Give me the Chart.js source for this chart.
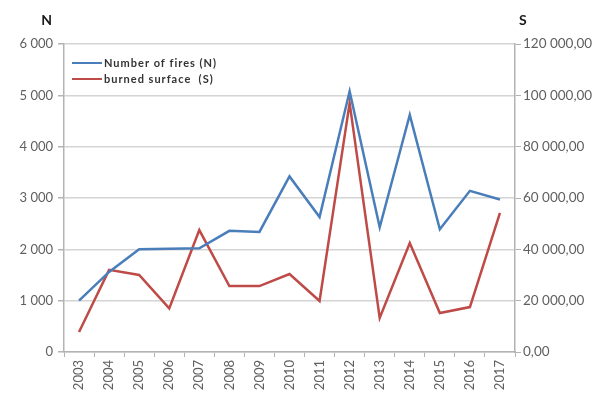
<!DOCTYPE html>
<html>
<head>
<meta charset="utf-8">
<script src="https://cdn.jsdelivr.net/npm/chart.js@4/dist/chart.umd.min.js"></script>
<style>
  html, body { margin: 0; padding: 0; background: #fff; }
  #wrap { width: 611px; height: 400px; position: relative; }
</style>
</head>
<body>
<div id="wrap"><canvas id="c"></canvas></div>
<script>
// Yearly data
const years = ['2003','2004','2005','2006','2007','2008','2009','2010','2011','2012','2013','2014','2015','2016','2017'];
const fires = [1000, 1560, 2000, 2010, 2020, 2360, 2340, 3420, 2630, 5080, 2430, 4620, 2390, 3140, 2970];
const surface = [7800, 32000, 30000, 17000, 47500, 25700, 25700, 30400, 19900, 97000, 13300, 42500, 15200, 17500, 54200];
const seriesNames = ['Number of fires (N)', 'burned surface  (S)'];
const axisTitles = ['N', 'S'];

const FONT = 'Lato, "Open Sans", sans-serif';
const TICK_COLOR = '#5f5f5f';
const GRID_COLOR = '#d4d4d4';
const AXIS_COLOR = '#b3b3b3';

function spaced(v) {
  return String(Math.round(v)).replace(/\B(?=(\d{3})+(?!\d))/g, ' ');
}

// Axis titles above each value axis and a legend inside the plot area
const decorations = {
  id: 'decorations',
  afterDraw(chart) {
    const ctx = chart.ctx;
    const area = chart.chartArea;
    ctx.save();
    ctx.fillStyle = '#1a1a1a';
    ctx.font = 'bold 14px ' + FONT;
    ctx.textBaseline = 'alphabetic';
    ctx.textAlign = 'right';
    ctx.fillText(axisTitles[0], area.left - 12, 25);
    ctx.textAlign = 'left';
    ctx.fillText(axisTitles[1], area.right + 4, 25);

    ctx.font = 'bold 11px ' + FONT;
    ctx.letterSpacing = '1px';
    ctx.textBaseline = 'middle';
    chart.data.datasets.forEach((ds, i) => {
      const y = area.top + 19 + i * 16;
      const x0 = area.left + 8;
      ctx.strokeStyle = ds.borderColor;
      ctx.lineWidth = 2;
      ctx.beginPath();
      ctx.moveTo(x0, y);
      ctx.lineTo(x0 + 30, y);
      ctx.stroke();
      ctx.fillStyle = '#333';
      ctx.fillText(ds.label, x0 + 32, y);
    });
    ctx.restore();
  }
};

new Chart(document.getElementById('c'), {
  type: 'line',
  data: {
    labels: years,
    datasets: [
      {
        label: seriesNames[0],
        data: fires,
        yAxisID: 'y',
        borderColor: '#4a7ebb',
        borderWidth: 2.5,
        pointRadius: 0,
        tension: 0
      },
      {
        label: seriesNames[1],
        data: surface,
        yAxisID: 'y1',
        borderColor: '#be4b48',
        borderWidth: 2.5,
        pointRadius: 0,
        tension: 0
      }
    ]
  },
  options: {
    responsive: true,
    maintainAspectRatio: false,
    animation: false,
    layout: { padding: { top: 44, left: 0, right: 0, bottom: 0 } },
    plugins: {
      legend: { display: false },
      tooltip: { enabled: false }
    },
    scales: {
      x: {
        offset: true,
        afterFit(s) { s.height = 48; },
        grid: {
          offset: true,
          drawOnChartArea: false,
          drawTicks: true,
          tickLength: 5,
          color: AXIS_COLOR
        },
        border: { color: AXIS_COLOR, width: 1.5 },
        ticks: {
          minRotation: 90,
          maxRotation: 90,
          autoSkip: false,
          color: TICK_COLOR,
          padding: 3,
          font: { family: FONT, size: 13 }
        }
      },
      y: {
        position: 'left',
        min: 0,
        max: 6000,
        afterFit(s) { s.width = 64; },
        grid: {
          color: GRID_COLOR,
          lineWidth: 1.5,
          drawTicks: true,
          tickLength: 6,
          tickColor: AXIS_COLOR
        },
        border: { color: AXIS_COLOR, width: 1.5 },
        ticks: {
          stepSize: 1000,
          color: TICK_COLOR,
          padding: 5,
          font: { family: FONT, size: 13 },
          callback: v => spaced(v)
        }
      },
      y1: {
        position: 'right',
        min: 0,
        max: 120000,
        afterFit(s) { s.width = 96; },
        grid: {
          drawOnChartArea: false,
          drawTicks: true,
          tickLength: 6,
          tickColor: AXIS_COLOR
        },
        border: { color: AXIS_COLOR, width: 1.5 },
        ticks: {
          stepSize: 20000,
          color: TICK_COLOR,
          padding: 2,
          font: { family: FONT, size: 13.5 },
          callback: v => spaced(v) + ',00'
        }
      }
    }
  },
  plugins: [decorations]
});
</script>
</body>
</html>
